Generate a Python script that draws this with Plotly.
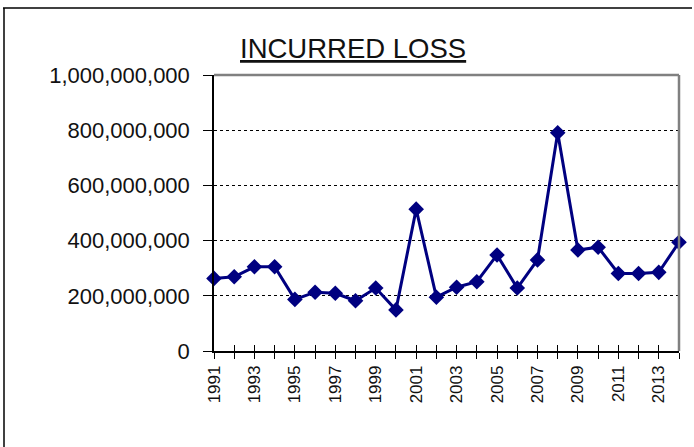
import plotly.graph_objects as go

years = list(range(1991, 2015))
incurred_loss = [263e6, 269e6, 305e6, 305e6, 187e6, 213e6, 209e6, 182e6, 228e6, 149e6,
                 514e6, 195e6, 231e6, 251e6, 348e6, 228e6, 330e6, 791e6, 366e6, 376e6,
                 281e6, 281e6, 285e6, 394e6]
x_tick_vals = years
x_tick_text = [str(y) if (y - 1991) % 2 == 0 else "" for y in years]
y_tick_vals = [0, 200e6, 400e6, 600e6, 800e6, 1000e6]
title_text = "INCURRED LOSS"

W, H = 694, 447
L, R, T, B = 214, 679, 75, 351

def px(xp):
    return (xp - L) / (R - L)

def py(yp):
    return (B - yp) / (B - T)

FONT = "Arial, Liberation Sans, sans-serif"
navy = "#000080"

fig = go.Figure()
fig.add_trace(go.Scatter(
    x=years, y=incurred_loss, mode="lines+markers",
    line=dict(color=navy, width=3),
    marker=dict(symbol="diamond", size=12, color=navy),
    showlegend=False, hoverinfo="x+y", cliponaxis=False,
))
# hidden trace to carry the overlay axis with inside ticks (crossing ticks)
fig.add_trace(go.Scatter(
    x=years, y=incurred_loss, mode="lines", line=dict(width=0), opacity=0,
    xaxis="x2", showlegend=False, hoverinfo="skip",
))

fig.update_layout(
    width=W, height=H,
    margin=dict(l=L, r=W - R, t=T, b=H - B, pad=0, autoexpand=False),
    paper_bgcolor="white", plot_bgcolor="white",
    font=dict(family=FONT, color="#111111"),
    xaxis=dict(
        range=[1991, 2014], tickmode="array", tickvals=x_tick_vals, ticktext=x_tick_text,
        tickangle=-90, tickfont=dict(size=17, family=FONT, color="#111111"),
        ticks="outside", ticklen=6, tickwidth=1, tickcolor="black",
        showline=True, linecolor="black", linewidth=1.5, showgrid=False, zeroline=False,
        ticklabelstandoff=0,
    ),
    xaxis2=dict(
        range=[1991, 2014], overlaying="x", anchor="y", side="bottom",
        tickmode="array", tickvals=x_tick_vals, showticklabels=False,
        ticks="inside", ticklen=6, tickwidth=1, tickcolor="black",
        showline=False, showgrid=False, zeroline=False,
    ),
    yaxis=dict(
        range=[0, 1e9], tickmode="array", tickvals=y_tick_vals, tickformat=",d",
        tickfont=dict(size=22, family=FONT, color="#111111"),
        ticks="outside", ticklen=9, tickwidth=1, tickcolor="black",
        showline=True, linecolor="black", linewidth=1.5,
        showgrid=True, gridcolor="black", gridwidth=1, griddash="dot",
        zeroline=False, ticklabelstandoff=9,
    ),
    shapes=[
        dict(type="line", xref="paper", yref="paper", x0=0, x1=1, y0=1, y1=1,
             line=dict(color="#808080", width=2.5)),
        dict(type="line", xref="paper", yref="paper", x0=1, x1=1, y0=0, y1=1,
             line=dict(color="#808080", width=2.5)),
        dict(type="line", xref="paper", yref="paper", x0=px(3), x1=px(692), y0=py(8), y1=py(8),
             line=dict(color="black", width=1.5)),
        dict(type="line", xref="paper", yref="paper", x0=px(4), x1=px(4), y0=py(8), y1=py(449),
             line=dict(color="black", width=1.5)),
    ],
    annotations=[
        dict(text="<u>" + title_text + "</u>", xref="paper", yref="paper",
             x=px(353), y=py(48), xanchor="center", yanchor="middle", showarrow=False,
             font=dict(size=27.5, family=FONT, color="#111111")),
    ],
)

fig.write_html("out.html", config={"displayModeBar": False},
               post_script="document.body.style.margin='0px';")
